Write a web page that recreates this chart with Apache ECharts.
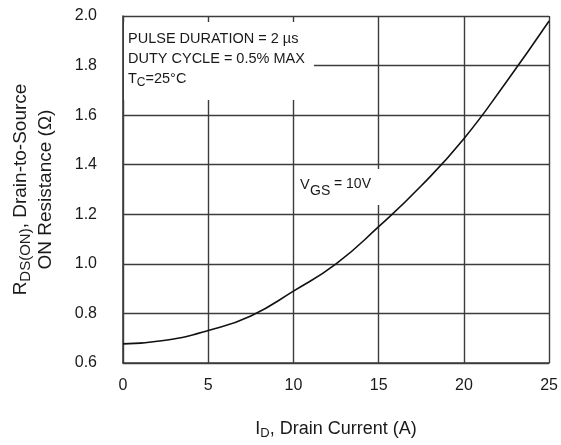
<!DOCTYPE html>
<html>
<head>
<meta charset="utf-8">
<script src="https://cdn.jsdelivr.net/npm/echarts@6/dist/echarts.min.js"></script>
<style>
html,body{margin:0;padding:0;background:#fff;overflow:hidden;}
#chart{width:561px;height:445px;}
</style>
</head>
<body>
<div id="chart"></div>
<script>
// Drain current (A) and on-resistance (Ohm), VGS = 10 V
const current = [0, 2.5, 5, 7.5, 10, 12.5, 15, 17.5, 20, 22.5, 25];
const resistance = [0.677, 0.692, 0.731, 0.79, 0.89, 1.0, 1.15, 1.315, 1.505, 1.735, 1.98];
const xTicks = [0, 5, 10, 15, 20, 25];
const yTicks = [0.6, 0.8, 1.0, 1.2, 1.4, 1.6, 1.8, 2.0];

const FONT = "'Liberation Sans', Arial, sans-serif";
const INK = '#1a1a1a';
const GRID = '#3c3c3c';

const chart = echarts.init(document.getElementById('chart'), null, {renderer: 'canvas'});
chart.setOption({
  animation: false,
  backgroundColor: '#fff',
  grid: {left: 123, right: 11, top: 16, bottom: 79, containLabel: false},
  xAxis: {
    type: 'value',
    min: xTicks[0], max: xTicks[xTicks.length - 1], interval: 5,
    axisLine: {show: true, onZero: false, lineStyle: {color: GRID, width: 1.6}},
    axisTick: {show: false},
    splitLine: {show: true, lineStyle: {color: GRID, width: 1.4}},
    axisLabel: {margin: 15, fontSize: 16, fontFamily: FONT, color: INK},
    name: '{r|I}{s|D}{r|, Drain Current (A)}',
    nameLocation: 'middle',
    nameGap: 55,
    nameTextStyle: {
      rich: {
        r: {fontSize: 18, fontFamily: FONT, color: INK, lineHeight: 22},
        s: {fontSize: 13, fontFamily: FONT, color: INK, lineHeight: 12, verticalAlign: 'bottom'}
      }
    }
  },
  yAxis: {
    type: 'value',
    min: yTicks[0], max: yTicks[yTicks.length - 1], interval: 0.2,
    axisLine: {show: true, onZero: false, lineStyle: {color: GRID, width: 1.6}},
    axisTick: {show: false},
    splitLine: {show: true, lineStyle: {color: GRID, width: 1.4}},
    axisLabel: {margin: 26, fontSize: 16, fontFamily: FONT, color: INK,
      formatter: v => v.toFixed(1)},
    name: '{r|R}{s|DS(ON)}{r|, Drain-to-Source}\n{r|ON Resistance (Ω)}',
    nameLocation: 'middle',
    nameRotate: 90,
    nameGap: 65,
    nameTextStyle: {
      rich: {
        r: {fontSize: 19, fontFamily: FONT, color: INK, lineHeight: 25},
        s: {fontSize: 15, fontFamily: FONT, color: INK, lineHeight: 14, verticalAlign: 'bottom'}
      }
    }
  },
  series: [{
    type: 'line',
    data: current.map((c, i) => [c, resistance[i]]),
    smooth: 0.5,
    showSymbol: false,
    lineStyle: {color: '#111', width: 1.6},
    z: 20
  }],
  graphic: [
    {type: 'rect', left: 124, top: 22, z: 10, shape: {width: 190, height: 78}, style: {fill: '#fff'}},
    {type: 'text', left: 128, top: 31, z: 11, style: {
      text: '{n|PULSE DURATION = 2 µs}\n{n|DUTY CYCLE = 0.5% MAX}\n{n|T}{s|C}{n|=25°C}',
      rich: {
        n: {fontSize: 14.5, fontFamily: FONT, fill: INK, lineHeight: 20},
        s: {fontSize: 12, fontFamily: FONT, fill: INK, lineHeight: 12, verticalAlign: 'bottom'}
      }
    }},
    {type: 'rect', left: 297, top: 169, z: 10, shape: {width: 93, height: 36}, style: {fill: '#fff'}},
    {type: 'text', left: 300, top: 177, z: 11, style: {text: 'V', fontSize: 14.5, fontFamily: FONT, fill: INK}},
    {type: 'text', left: 310, top: 184, z: 11, style: {text: 'GS', fontSize: 14, fontFamily: FONT, fill: INK}},
    {type: 'text', left: 334, top: 177, z: 11, style: {text: '= 10V', fontSize: 14, fontFamily: FONT, fill: INK}}
  ]
});
</script>
</body>
</html>
